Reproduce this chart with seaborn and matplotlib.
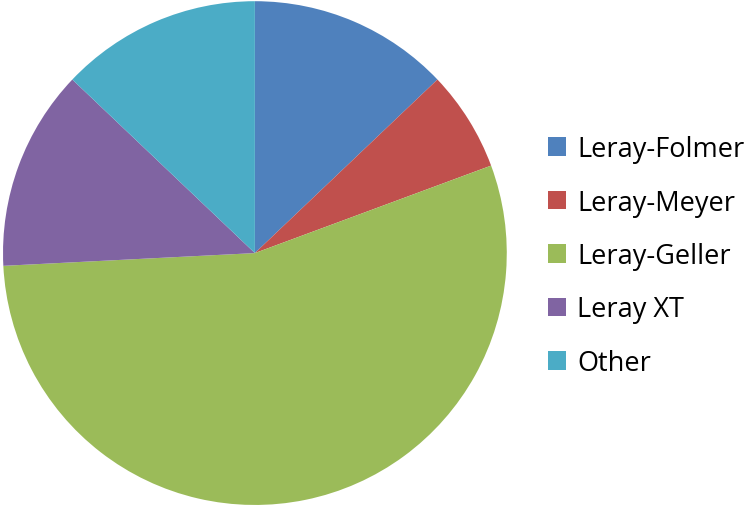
import matplotlib
matplotlib.use('Agg')
import matplotlib.pyplot as plt
import seaborn as sns

sns.set_theme(style="white")
plt.rcParams['font.family'] = ['Open Sans', 'DejaVu Sans']

labels = ["Leray-Folmer", "Leray-Meyer", "Leray-Geller", "Leray XT", "Other"]
counts = [4, 2, 17, 4, 4]
colors = sns.color_palette(["#4F81BD", "#C0504D", "#9BBB59", "#8064A2", "#4BACC6"])

fig = plt.figure(figsize=(7.53, 5.10), dpi=100)
ax = fig.add_axes([0.004, 0.0078, 0.669, 0.988])
wedges, _ = ax.pie(counts, colors=colors, startangle=90, counterclock=False,
                   radius=1, wedgeprops=dict(linewidth=0))
ax.set_xlim(-1, 1)
ax.set_ylim(-1, 1)
ax.set_aspect('equal')
ax.axis('off')

leg = fig.legend(wedges, labels, loc='center left', bbox_to_anchor=(0.728, 0.496),
                 frameon=False, fontsize=19.5, labelspacing=0.94,
                 handlelength=0.66, handleheight=0.66, handletextpad=0.4,
                 borderaxespad=0, borderpad=0)
for t in leg.get_texts():
    t.set_color("black")

fig.savefig("out.png", dpi=100)
